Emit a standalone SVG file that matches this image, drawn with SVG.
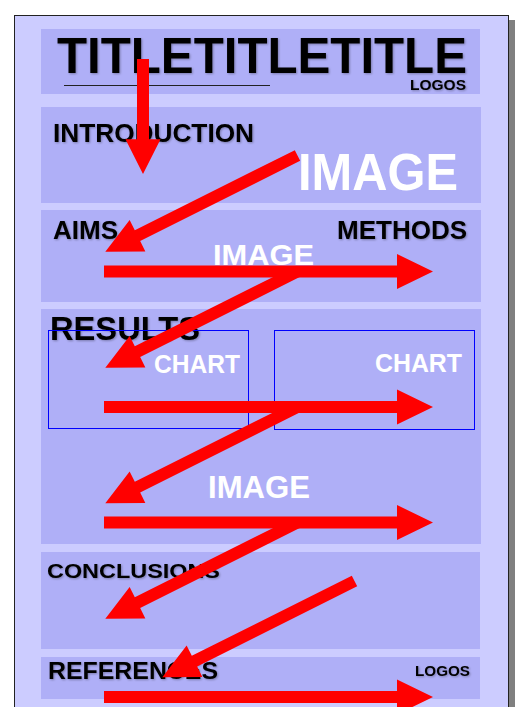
<svg xmlns="http://www.w3.org/2000/svg" xmlns:xlink="http://www.w3.org/1999/xlink" width="520" height="707" viewBox="0 0 520 707">
<defs>
<style>
.panel{fill:#afaff7}
.hd{font-family:"Liberation Sans",Arial,sans-serif;font-weight:bold;fill:#000;filter:url(#sh)}
.wt{font-family:"Liberation Sans",Arial,sans-serif;font-weight:bold;fill:#fff}
.chart{fill:none;stroke:#0000ff;stroke-width:1}
.arrow{fill:#ff0000}
</style>
<filter id="sh" x="-5%" y="-20%" width="110%" height="140%">
<feGaussianBlur in="SourceAlpha" stdDeviation="0.9"/>
<feOffset dx="0.6" dy="0.6" result="b"/>
<feFlood flood-color="#000" flood-opacity="0.3"/>
<feComposite in2="b" operator="in"/>
<feMerge><feMergeNode/><feMergeNode in="SourceGraphic"/></feMerge>
</filter>
<path id="diag" d="M0,-6 L179,-6 L179,-17.5 L215,0 L179,17.5 L179,6 L0,6 Z"/>
<path id="horiz" d="M0,-6 L293,-6 L293,-17.5 L329,0 L293,17.5 L293,6 L0,6 Z"/>
</defs>
<g id="page">
<rect x="509" y="20" width="6" height="700" fill="#808080"/>
<rect x="14.5" y="15.5" width="494" height="720" fill="#ccccff" stroke="#222" stroke-width="1"/>
</g>
<g id="title">
<rect class="panel" x="41" y="29" width="439" height="65"/>
<text class="hd" x="57" y="73" font-size="50" textLength="410" lengthAdjust="spacingAndGlyphs">TITLETITLETITLE</text>
<line x1="64" y1="85.5" x2="270" y2="85.5" stroke="#222" stroke-width="1"/>
<text class="hd" x="410" y="90" font-size="15" textLength="56" lengthAdjust="spacingAndGlyphs">LOGOS</text>
</g>
<g id="introduction">
<rect class="panel" x="41" y="107" width="440" height="96"/>
<text class="hd" x="53" y="141.5" font-size="26" textLength="201" lengthAdjust="spacingAndGlyphs">INTRODUCTION</text>
<text class="wt" x="298" y="190" font-size="51" textLength="160" lengthAdjust="spacingAndGlyphs">IMAGE</text>
</g>
<g id="aims-methods">
<rect class="panel" x="41" y="210" width="440" height="92"/>
<text class="hd" x="53" y="238.5" font-size="25" textLength="65" lengthAdjust="spacingAndGlyphs">AIMS</text>
<text class="hd" x="337" y="238.5" font-size="25" textLength="130" lengthAdjust="spacingAndGlyphs">METHODS</text>
<text class="wt" x="213" y="265" font-size="30" textLength="101" lengthAdjust="spacingAndGlyphs">IMAGE</text>
</g>
<g id="results">
<rect class="panel" x="41" y="309" width="440" height="235"/>
<text class="hd" x="50" y="339.5" font-size="33" textLength="150" lengthAdjust="spacingAndGlyphs">RESULTS</text>
<rect class="chart" x="48.5" y="330.5" width="200" height="98"/>
<rect class="chart" x="274.5" y="330.5" width="200" height="99"/>
<text class="wt" x="154" y="372.5" font-size="25" textLength="86" lengthAdjust="spacingAndGlyphs">CHART</text>
<text class="wt" x="375" y="371.5" font-size="25" textLength="87" lengthAdjust="spacingAndGlyphs">CHART</text>
<text class="wt" x="208" y="497.5" font-size="31" textLength="102" lengthAdjust="spacingAndGlyphs">IMAGE</text>
</g>
<g id="conclusions">
<rect class="panel" x="41" y="552" width="439" height="97"/>
<text class="hd" x="47" y="577.5" font-size="21" textLength="173" lengthAdjust="spacingAndGlyphs">CONCLUSIONS</text>
</g>
<g id="references">
<rect class="panel" x="41" y="657" width="439" height="42"/>
<text class="hd" x="48" y="678.5" font-size="23.5" textLength="170" lengthAdjust="spacingAndGlyphs">REFERENCES</text>
<text class="hd" x="415" y="676" font-size="14.5" textLength="55" lengthAdjust="spacingAndGlyphs">LOGOS</text>
</g>
<g id="connectors" class="arrow">
<path d="M137,59 L149,59 L149,139.3 L160.5,139.3 L143,174 L125.5,139.3 L137,139.3 Z"/>
<use xlink:href="#diag" transform="translate(297.5,155.5) rotate(153.37)"/>
<use xlink:href="#horiz" transform="translate(104,271.5)"/>
<use xlink:href="#diag" transform="translate(297.5,271.5) rotate(153.37)"/>
<use xlink:href="#horiz" transform="translate(104,407)"/>
<use xlink:href="#diag" transform="translate(297.5,407) rotate(153.37)"/>
<use xlink:href="#horiz" transform="translate(104,522.5)"/>
<use xlink:href="#diag" transform="translate(297.5,522.5) rotate(153.37)"/>
<use xlink:href="#diag" transform="translate(354.5,581) rotate(153.37)"/>
<use xlink:href="#horiz" transform="translate(104,697)"/>
</g>
</svg>
